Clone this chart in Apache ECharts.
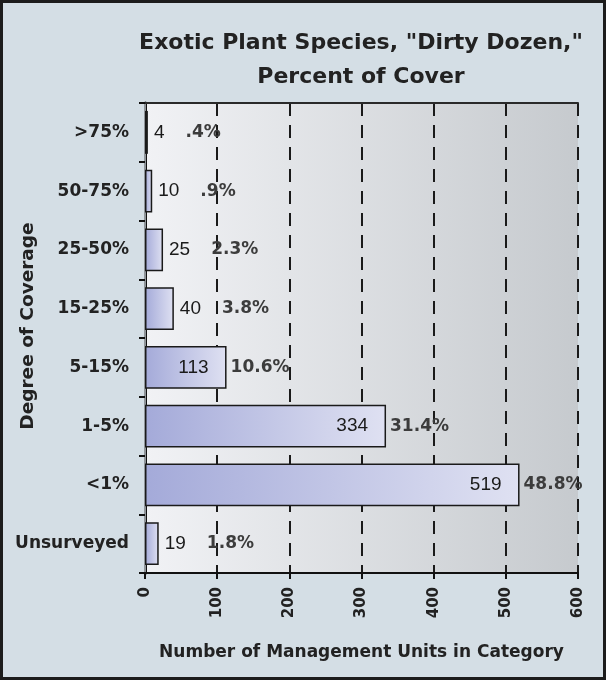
<!DOCTYPE html>
<html>
<head>
<meta charset="utf-8">
<script src="https://cdn.jsdelivr.net/npm/echarts@6/dist/echarts.min.js"></script>
<style>
  html, body { margin: 0; padding: 0; }
  #frame { position: absolute; left: 0; top: 0; width: 606px; height: 680px; box-sizing: border-box; border: 3px solid #1c1c1c; background: #d4dee5; }
  #chart { position: absolute; left: 0; top: 0; width: 606px; height: 680px; }
</style>
</head>
<body>
<div id="frame"></div>
<div id="chart"></div>
<script>
// Degree of coverage classes, top to bottom
const categories = ['>75%', '50-75%', '25-50%', '15-25%', '5-15%', '1-5%', '<1%', 'Unsurveyed'];
// Number of management units in each class
const unitCounts = [4, 10, 25, 40, 113, 334, 519, 19];
// Share of all management units
const percentLabels = ['.4%', '.9%', '2.3%', '3.8%', '10.6%', '31.4%', '48.8%', '1.8%'];
const xTicks = [0, 100, 200, 300, 400, 500, 600];
const titleLines = ['Exotic Plant Species, "Dirty Dozen,"', 'Percent of Cover'];

const bold = 'DejaVu Sans, sans-serif';
const plain = 'Liberation Sans, Arial, sans-serif';

const barFill = new echarts.graphic.LinearGradient(0, 0, 1, 0, [
  { offset: 0, color: '#a4aad9' },
  { offset: 1, color: '#dfe1f2' }
]);

// Long bars carry their count inside the bar end, short bars carry it outside
const barData = unitCounts.map((v, i) => {
  const inside = v > 100;
  return {
    value: v,
    label: inside
      ? { show: true, position: 'insideRight', distance: 18, formatter: '{n|' + v + '}' }
      : { show: true, position: 'right', distance: 6, formatter: '{n|' + v + '}{p|' + percentLabels[i] + '}' }
  };
});

// Percent labels for the long bars sit just past the bar end
const pctData = unitCounts.map((v, i) => ({
  value: v,
  label: { show: v > 100, position: 'right', distance: 4, formatter: '{q|' + percentLabels[i] + '}' }
}));

const rich = {
  n: { fontFamily: plain, fontSize: 19, color: '#1a1a1a' },
  p: { fontFamily: bold, fontSize: 17, fontWeight: 'bold', color: '#3c3c3c', padding: [0, 0, 0, 21] },
  q: { fontFamily: bold, fontSize: 17, fontWeight: 'bold', color: '#3c3c3c' }
};

const chart = echarts.init(document.getElementById('chart'));
chart.setOption({
  animation: false,
  backgroundColor: 'transparent',
  graphic: [{
    type: 'text',
    x: 361, y: 26,
    style: {
      text: titleLines.join('\n'),
      align: 'center', verticalAlign: 'top',
      fontFamily: bold, fontSize: 22, fontWeight: 'bold', fill: '#222', lineHeight: 34
    }
  }],
  grid: {
    left: 145, right: 28, top: 103, bottom: 107,
    outerBoundsMode: 'none',
    containLabel: false,
    show: true,
    borderWidth: 0,
    backgroundColor: new echarts.graphic.LinearGradient(0, 0, 1, 0, [
      { offset: 0, color: '#f1f2f5' },
      { offset: 1, color: '#c6cace' }
    ])
  },
  xAxis: [{
    type: 'value',
    min: 0, max: 600, interval: 100,
    position: 'bottom',
    name: 'Number of Management Units in Category',
    nameLocation: 'middle',
    nameGap: 71,
    nameMoveOverlap: false,
    nameTextStyle: { fontFamily: bold, fontSize: 17, fontWeight: 'bold', color: '#222' },
    axisLine: { show: true, lineStyle: { color: '#111', width: 2 } },
    axisTick: { show: true, length: 6, lineStyle: { color: '#111', width: 2 } },
    axisLabel: {
      rotate: 90, margin: 14,
      fontFamily: bold, fontSize: 15, fontWeight: 'bold', color: '#222',
      formatter: v => xTicks.includes(v) ? String(v) : ''
    },
    splitLine: { show: true, lineStyle: { color: '#1a1a1a', width: 2, type: [13, 9] } }
  }, {
    type: 'value',
    min: 0, max: 600, interval: 100,
    position: 'top',
    axisLine: { show: true, lineStyle: { color: '#2a2a2a', width: 2 } },
    axisTick: { show: false },
    axisLabel: { show: false },
    splitLine: { show: false }
  }],
  yAxis: [{
    type: 'category',
    data: categories,
    inverse: true,
    name: 'Degree of Coverage',
    nameLocation: 'middle',
    nameGap: 107,
    nameMoveOverlap: false,
    nameRotate: 90,
    nameTextStyle: { fontFamily: bold, fontSize: 18.5, fontWeight: 'bold', color: '#222', padding: [0, 0, 0, 24] },
    axisLine: { show: true, lineStyle: { color: '#111', width: 3 } },
    axisTick: { show: true, length: 6, lineStyle: { color: '#111', width: 2 } },
    axisLabel: { margin: 16, fontFamily: bold, fontSize: 17, fontWeight: 'bold', color: '#222' }
  }, {
    type: 'category',
    data: categories,
    inverse: true,
    position: 'right',
    axisLine: { show: true, lineStyle: { color: '#8f9499', width: 2 } },
    axisTick: { show: false },
    axisLabel: { show: false }
  }],
  series: [{
    type: 'bar',
    data: barData,
    barWidth: '73%',
    itemStyle: { color: barFill, borderColor: '#1a1a1a', borderWidth: 1.5 },
    label: { rich },
    z: 3
  }, {
    type: 'bar',
    data: pctData,
    barWidth: '73%',
    barGap: '-100%',
    itemStyle: { color: 'rgba(0,0,0,0)', borderWidth: 0 },
    label: { rich },
    silent: true,
    z: 4
  }]
});
</script>
</body>
</html>
